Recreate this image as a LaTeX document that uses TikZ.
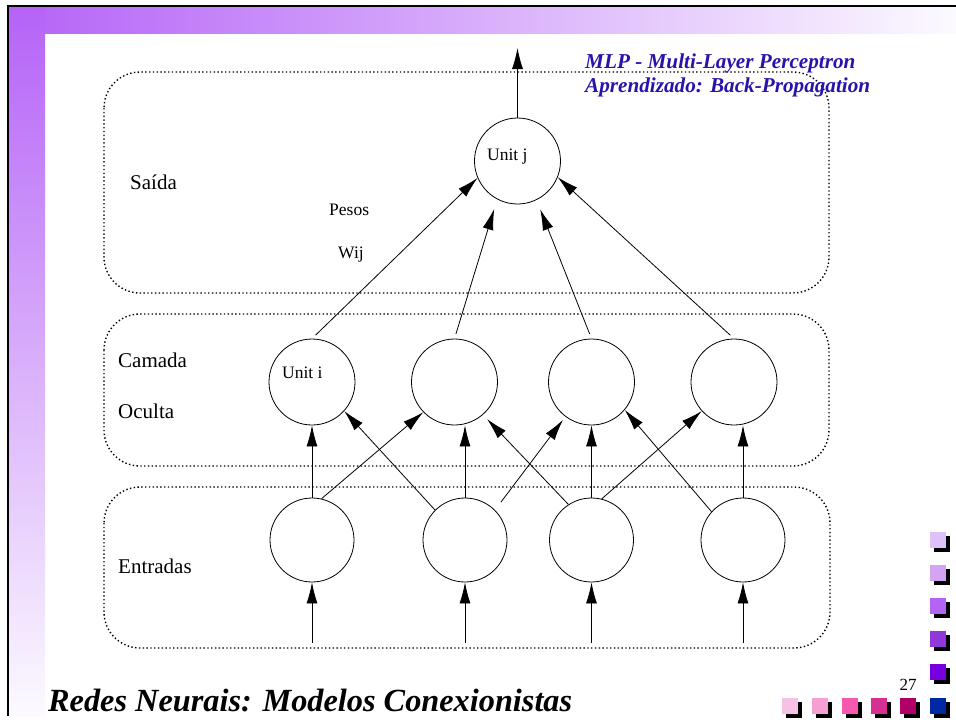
\documentclass[tikz,border=0pt]{standalone}
\usepackage{fontspec}
\setmainfont{Liberation Serif}
\usetikzlibrary{arrows.meta}
\definecolor{bandpurple}{RGB}{181,99,247}
\definecolor{bandwhite}{RGB}{252,250,255}
\definecolor{titleblue}{RGB}{40,20,170}
\definecolor{sqa}{RGB}{224,192,248}
\definecolor{sqb}{RGB}{212,164,244}
\definecolor{sqc}{RGB}{180,100,244}
\definecolor{sqd}{RGB}{144,56,216}
\definecolor{sqe}{RGB}{120,0,224}
\definecolor{sqblue}{RGB}{0,40,160}
\definecolor{sqf}{RGB}{248,192,228}
\definecolor{sqg}{RGB}{244,160,208}
\definecolor{sqh}{RGB}{248,88,176}
\definecolor{sqi}{RGB}{216,48,144}
\definecolor{sqj}{RGB}{176,0,104}
\tikzset{
  unit/.style={circle,draw,line width=0.8pt,minimum size=86pt,inner sep=0pt},
  inunit/.style={unit,minimum size=84pt},
  layer/.style={draw,line width=1.4pt,dash pattern=on 1.4pt off 2.4pt,rounded corners=36pt},
  link/.style={line width=0.8pt,-{Latex[length=21pt,width=11pt]}},
  lbl/.style={anchor=base west,inner sep=0pt,font=\fontsize{21}{24}\selectfont},
  small/.style={anchor=base west,inner sep=0pt,font=\fontsize{17.5}{20}\selectfont},
  heading/.style={anchor=base west,inner sep=0pt,text=titleblue,font=\fontsize{21.2}{24}\selectfont\bfseries\itshape},
}
\begin{document}
\begin{tikzpicture}[x=1pt,y=-1pt]
\useasboundingbox (0,0) rectangle (956,723);
% slide frame
\shade[left color=bandpurple,right color=bandwhite] (9,7) rectangle (956,33);
\shade[top color=bandpurple,bottom color=bandwhite] (9,7) rectangle (45,716);
\draw[line width=2.5pt] (8,716) -- (8,6) -- (956,6);
% layers
\draw[layer] (104,72) rectangle (829,293);
\draw[layer] (104,314) rectangle (829,466);
\draw[layer] (104,487) rectangle (830,648);
% units
\node[unit] (j) at (517.5,161) {};
\node[unit] (h1) at (312,382) {};
\node[unit] (h2) at (454.5,382) {};
\node[unit] (h3) at (591.5,382) {};
\node[unit] (h4) at (734,382) {};
\node[inunit] (e1) at (312,540) {};
\node[inunit] (e2) at (465,540) {};
\node[inunit] (e3) at (591.5,540) {};
\node[inunit] (e4) at (743,540) {};
\coordinate (out) at (517.5,48);
\coordinate (s1) at (312,643);
\coordinate (s2) at (465,643);
\coordinate (s3) at (591.5,643);
\coordinate (s4) at (743,643);
% connections
\draw[link] (j.north) -- (out);
\draw[link,shorten <=5pt] (h1.north) -- (j.203);
\draw[link,shorten <=5pt,shorten >=10pt] (h2.north) -- (j.242);
\draw[link,shorten <=5pt,shorten >=10pt] (h3.north) -- (j.296);
\draw[link,shorten <=5pt] (h4.north) -- (j.338);
\draw[link] (e1.north) -- (h1.south);
\draw[link] (e2.north) -- (e2.north |- h2.south);
\draw[link] (e3.north) -- (h3.south);
\draw[link] (e4.north) -- (e4.north |- h4.south);
\draw[link] (e1.77) -- (h2.224);
\draw[link] (e2.135) -- (h1.318);
\draw[link,shorten <=10pt,shorten >=4pt] (e2.45) -- (h3.233);
\draw[link,shorten >=6pt] (e3.123) -- (h2.311);
\draw[link] (e3.76) -- (h4.222);
\draw[link] (e4.138) -- (h3.320);
\draw[link] (s1) -- (e1.south);
\draw[link] (s2) -- (e2.south);
\draw[link] (s3) -- (e3.south);
\draw[link] (s4) -- (e4.south);
% labels
\node[lbl] (saida) at (130,189) {Saída};
\node[lbl] (camada) at (118,367) {Camada};
\node[lbl] (oculta) at (118,418) {Oculta};
\node[lbl] (entradas) at (118,573) {Entradas};
\node[small] (unitj) at (487,160) {Unit j};
\node[small] (uniti) at (282,378) {Unit i};
\node[small] (pesos) at (329,215) {Pesos};
\node[small] (wij) at (338,258) {Wij};
\node[heading] (mlp) at (585,68) {MLP - Multi-Layer Perceptron};
\node[heading] (aprend) at (585,92) {Aprendizado: Back-Propagation};
\node[anchor=base west,inner sep=0pt,font=\fontsize{32.3}{36}\selectfont\bfseries\itshape] (redes) at (48,711) {Redes Neurais: Modelos Conexionistas};
\node[anchor=base,inner sep=0pt,font=\fontsize{17}{20}\selectfont] (pagina) at (908,690) {27};
% squares
\fill (934,536) rectangle ++(16,16);
\fill[sqa] (930,532) rectangle ++(16,16);
\fill (934,569) rectangle ++(16,16);
\fill[sqb] (930,565) rectangle ++(16,16);
\fill (934,602) rectangle ++(16,16);
\fill[sqc] (930,598) rectangle ++(16,16);
\fill (934,635) rectangle ++(16,16);
\fill[sqd] (930,631) rectangle ++(16,16);
\fill (934,668) rectangle ++(16,16);
\fill[sqe] (930,664) rectangle ++(16,16);
\fill (934,702) rectangle ++(16,16);
\fill[sqblue] (930,698) rectangle ++(16,16);
\fill (786,702) rectangle ++(16,16);
\fill[sqf] (782,698) rectangle ++(16,16);
\fill (816,702) rectangle ++(16,16);
\fill[sqg] (812,698) rectangle ++(16,16);
\fill (846,702) rectangle ++(16,16);
\fill[sqh] (842,698) rectangle ++(16,16);
\fill (875,702) rectangle ++(16,16);
\fill[sqi] (871,698) rectangle ++(16,16);
\fill (904,702) rectangle ++(16,16);
\fill[sqj] (900,698) rectangle ++(16,16);
\end{tikzpicture}
\end{document}
